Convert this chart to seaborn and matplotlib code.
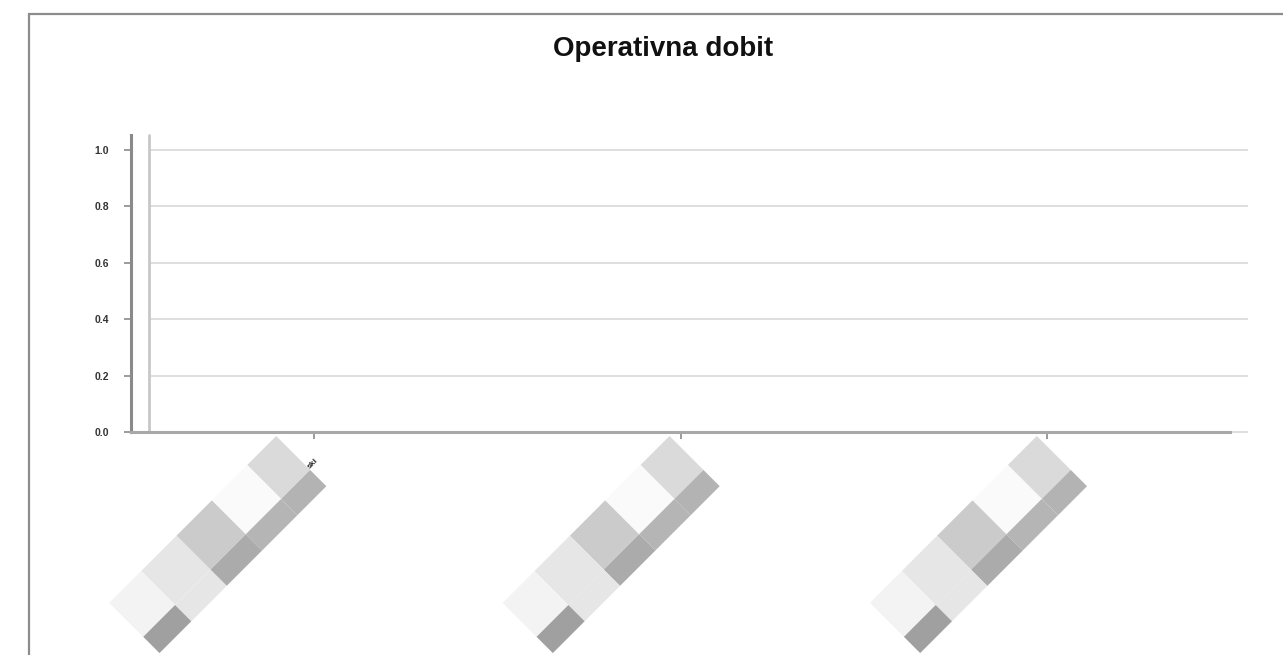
import numpy as np
import pandas as pd
import seaborn as sns
import matplotlib
matplotlib.use("Agg")
import matplotlib.pyplot as plt
import matplotlib.transforms as mtransforms
from matplotlib.patches import Polygon, Rectangle

# ── Data ──────────────────────────────────────────────────────
categories  = ["kat_1", "kat_2", "kat_3"]
values      = [0.0, 0.0, 0.0]          # Operativna dobit - prazan graf
tick_labels = ["ski", "", ""]
y_ticks     = [0.0, 0.2, 0.4, 0.6, 0.8, 1.0]

# mozaik preko oznaka (zamagljene oznake kategorija)
mosaic_light = ["#dadada", "#fafafa", "#cbcbcb", "#e6e6e6", "#f3f3f3"]
mosaic_dark  = ["#b3b3b3", "#b5b5b5", "#ababab", "#e6e6e6", "#a0a0a0"]
mosaic_cuts  = [0, 41, 91, 141, 191, 236]   # px uzduz dijagonale
label_dx     = [-38, -11, -10]              # px pomak pocetka oznake od tick-a

DPI = 100
W, H = 1283, 655
DEPTH = 18   # px, 3D pomak straznjeg zida

sns.set_theme(style="white")
plt.rcParams["font.family"] = ["Liberation Sans", "DejaVu Sans"]

fig = plt.figure(figsize=(W / DPI, H / DPI), dpi=DPI)
fig.patch.set_facecolor("white")

# okvir oko slike
fig.add_artist(Rectangle((29 / W, -0.05), 1.1, (H - 14) / H + 0.05,
                         transform=fig.transFigure, fill=False,
                         ec="#8c8c8c", lw=1.6))

ax = fig.add_axes([131 / W, (H - 432) / H, (1230 - 131) / W, (432 - 135) / H])
df = pd.DataFrame({"kategorija": categories, "dobit": values})
sns.barplot(data=df, x="kategorija", y="dobit", ax=ax, color="#7a9cc6")

ax.set_ylim(0, 297 / 282)
ax.set_xlim(-0.5, len(categories) - 0.5)
ax.set_xlabel(""); ax.set_ylabel("")

# ── Straznji zid i mreza (pomaknuti udesno) ───────────────────
shift = mtransforms.ScaledTranslation(DEPTH / DPI, 0, fig.dpi_scale_trans)
ax.hlines(y_ticks, 0, 1, transform=ax.get_yaxis_transform() + shift,
          colors="#dedede", lw=1.4, zorder=0, clip_on=False)
ax.plot([0, 0], [0, 1], transform=ax.transAxes + shift,
        color="#c8c8c8", lw=2.0, zorder=0, clip_on=False)

# ── Osi ───────────────────────────────────────────────────────
for s in ["top", "right"]:
    ax.spines[s].set_visible(False)
ax.spines["left"].set_color("#8a8a8a")
ax.spines["left"].set_linewidth(2.2)
ax.spines["bottom"].set_color("#a8a8a8")
ax.spines["bottom"].set_linewidth(2.2)

ax.set_yticks(y_ticks)
ax.set_yticklabels([f"{v:.1f}" for v in y_ticks], fontsize=7.5,
                   fontweight="bold", color="#333333")
ax.tick_params(axis="y", left=True, length=5, width=1.2, color="#8a8a8a", pad=11)

ax.set_xticks(range(len(categories)))
ax.set_xticklabels(tick_labels, rotation=45, ha="right", rotation_mode="anchor",
                   fontsize=6, fontweight="bold", color="#222222")
ax.tick_params(axis="x", bottom=True, length=5, width=1.2, color="#8a8a8a", pad=13)

# ── Mozaik oznake ─────────────────────────────────────────────
u_dir = np.array([-1.0, -1.0]) / np.sqrt(2)   # niz dijagonalu (lijevo-dolje)
v_dir = np.array([1.0, -1.0]) / np.sqrt(2)    # okomito (desno-dolje)
for i in range(len(categories)):
    trans = fig.dpi_scale_trans + mtransforms.ScaledTranslation(i, 0, ax.transData)
    p0 = np.array([label_dx[i], -4.0])
    for k in range(len(mosaic_light)):
        u0, u1 = mosaic_cuts[k], mosaic_cuts[k + 1]
        for (v0, v1), col in (((0, 48), mosaic_light[k]), ((48, 71), mosaic_dark[k])):
            pts = [p0 + u0 * u_dir + v0 * v_dir, p0 + u1 * u_dir + v0 * v_dir,
                   p0 + u1 * u_dir + v1 * v_dir, p0 + u0 * u_dir + v1 * v_dir]
            fig.add_artist(Polygon(np.array(pts) / DPI, closed=True, transform=trans,
                                   fc=col, ec="none", zorder=1))

fig.text(663 / W, 1 - 49 / H, "Operativna dobit", ha="center", va="center",
         fontsize=20, fontweight="bold", color="#111111")

plt.savefig("out.png", dpi=DPI)
plt.close()
